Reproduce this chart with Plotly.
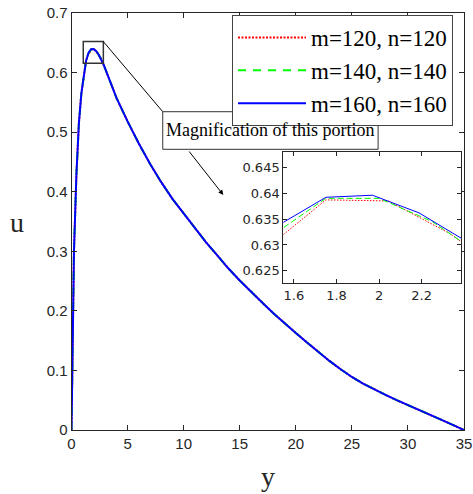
import plotly.graph_objects as go

# ---------------- data ----------------
# rising part shared by all grids
y_rise = [0, 0.22, 0.44, 0.66, 0.88, 1.1, 1.3]
u_rise = [0, 0.30, 0.43, 0.515, 0.565, 0.598, 0.62]

# peak region, each grid resolution
y_peak_120 = [1.458, 1.75, 2.042, 2.333, 2.625]
u_peak_120 = [0.6289, 0.6387, 0.6385, 0.6322, 0.6234]
y_peak_140 = [1.5, 1.75, 2.0, 2.25, 2.5]
u_peak_140 = [0.6319, 0.6390, 0.6390, 0.6345, 0.6275]
y_peak_160 = [1.531, 1.75, 1.969, 2.1875, 2.406]
u_peak_160 = [0.6339, 0.6392, 0.6396, 0.6362, 0.6308]

# decaying tail shared by all grids
y_tail = [2.85, 3.2, 3.6, 4, 5, 6, 7, 8, 9, 10, 11, 12, 13, 14, 15, 16, 17, 18,
          19, 20, 21, 22, 23, 24, 25, 26, 27, 28, 29, 30, 31, 32, 33, 34, 35]
u_tail = [0.614, 0.597, 0.578, 0.558, 0.518, 0.481, 0.447, 0.416, 0.388, 0.363,
          0.338, 0.315, 0.293, 0.271, 0.251, 0.232, 0.214, 0.196, 0.179, 0.163,
          0.147, 0.131, 0.116, 0.102, 0.089, 0.078, 0.068, 0.059, 0.050, 0.042,
          0.034, 0.0255, 0.017, 0.0085, 0.0]

series_names = ["m=120, n=120", "m=140, n=140", "m=160, n=160"]
series_colors = ["#ff0000", "#00ff00", "#0000ff"]
main_dash = ["2px,1.5px", "8px,7px", "solid"]
inset_dash = ["1.5px,1.5px", "6px,3px", "solid"]

x_ticks = [0, 5, 10, 15, 20, 25, 30, 35]
y_ticks = [0, 0.1, 0.2, 0.3, 0.4, 0.5, 0.6, 0.7]
y_ticktext = ["0", "0.1", "0.2", "0.3", "0.4", "0.5", "0.6", "0.7"]
inset_x_ticks = [1.6, 1.8, 2.0, 2.2]
inset_x_text = ["1.6", "1.8", "2", "2.2"]
inset_y_ticks = [0.625, 0.63, 0.635, 0.64, 0.645]
inset_y_text = ["0.625", "0.63", "0.635", "0.64", "0.645"]

# ---------------- figure ----------------
W, H = 473, 494
peaks = [(y_peak_120, u_peak_120), (y_peak_140, u_peak_140), (y_peak_160, u_peak_160)]

fig = go.Figure()
for (yp, up), name, col, dash in zip(peaks, series_names, series_colors, main_dash):
    ys = y_rise + yp + y_tail
    us = u_rise + up + u_tail
    fig.add_trace(go.Scatter(x=ys, y=us, mode="lines", name=name,
                             line=dict(color=col, width=2, dash=dash),
                             xaxis="x", yaxis="y"))
for (yp, up), name, col, dash in zip(peaks, series_names, series_colors, inset_dash):
    ys = y_rise + yp + y_tail
    us = u_rise + up + u_tail
    fig.add_trace(go.Scatter(x=ys, y=us, mode="lines", name=name, showlegend=False,
                             line=dict(color=col, width=1, dash=dash),
                             xaxis="x2", yaxis="y2"))

axis_col = "#262626"
tick_font = dict(family="Liberation Sans, Arial", size=15, color=axis_col)
inset_font = dict(family="DejaVu Sans", size=13, color=axis_col)
serif = "Liberation Serif, Times New Roman"

common = dict(ticks="inside", tickcolor=axis_col, showline=True, linecolor=axis_col,
              linewidth=1, mirror="ticks", showgrid=False, zeroline=False,
              automargin=False)

fig.update_layout(
    width=W, height=H, autosize=False,
    margin=dict(l=0, r=0, t=0, b=0, pad=0, autoexpand=False),
    paper_bgcolor="white", plot_bgcolor="white",
    xaxis=dict(domain=[71.5 / W, 464 / W], range=[0, 35], tickvals=x_ticks,
               ticklen=5, tickfont=tick_font, anchor="y", **common),
    yaxis=dict(domain=[(H - 430) / H, (H - 13) / H], range=[0, 0.7], tickvals=y_ticks,
               ticktext=y_ticktext, ticklen=5, tickfont=tick_font, anchor="x", **common),
    xaxis2=dict(domain=[283.3 / W, 461 / W], range=[1.55, 2.385], tickvals=inset_x_ticks,
                ticktext=inset_x_text, ticklen=4, tickfont=inset_font, anchor="y2",
                **common),
    yaxis2=dict(domain=[(H - 283.3) / H, (H - 151.7) / H], range=[0.6226, 0.648],
                tickvals=inset_y_ticks, ticktext=inset_y_text, ticklen=4,
                tickfont=inset_font, anchor="x2", **common),
    legend=dict(x=232 / W, y=1 - 15 / H, xanchor="left", yanchor="top",
                bgcolor="white", bordercolor="#444444", borderwidth=1,
                font=dict(family=serif, size=23, color="black"),
                itemwidth=68, tracegroupgap=0),
    showlegend=True,
)

# rectangle around peak, connector line, magnification box
fig.add_shape(type="rect", xref="x", yref="y", x0=1.05, x1=2.84, y0=0.6155, y1=0.652,
              line=dict(color="#333333", width=1.5), layer="above")
fig.add_shape(type="line", xref="x", yref="y", x0=2.84, y0=0.652, x1=8.136, y1=0.5343,
              line=dict(color="black", width=1), layer="above")
fig.add_shape(type="rect", xref="x", yref="y", x0=8.136, x1=27.34, y0=0.4712, y1=0.5343,
              line=dict(color="#333333", width=1), fillcolor="white", layer="above")
fig.add_annotation(x=17.74, y=0.5028, xref="x", yref="y", text="Magnification of this portion",
                   showarrow=False, font=dict(family=serif, size=18, color="black"))
fig.add_annotation(x=13.54, y=0.3945, ax=10.39, ay=0.470, xref="x", yref="y",
                   axref="x", ayref="y", text="", showarrow=True, arrowhead=2,
                   arrowsize=1, arrowwidth=1, arrowcolor="black")

# axis titles
fig.add_annotation(x=16.7 / W, y=1 - 222 / H, xref="paper", yref="paper", text="u",
                   xanchor="center", yanchor="middle", showarrow=False,
                   font=dict(family=serif, size=28, color=axis_col))
fig.add_annotation(x=267.7 / W, y=0.0, xref="paper", yref="paper", text="y",
                   xanchor="center", yanchor="bottom", showarrow=False,
                   font=dict(family=serif, size=28, color=axis_col))

fig.write_html("out.html")
